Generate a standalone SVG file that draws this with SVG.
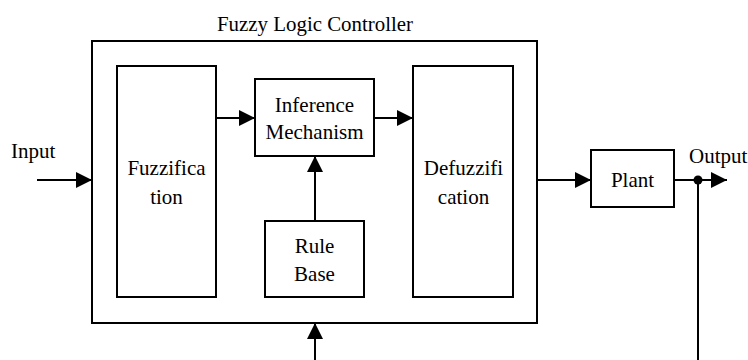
<svg xmlns="http://www.w3.org/2000/svg" width="748" height="360" viewBox="0 0 748 360">
<style>
.box{fill:#fff;stroke:#000;stroke-width:2}
.ln{fill:none;stroke:#000;stroke-width:2}
.t{font-family:'Liberation Serif','Times New Roman','DejaVu Serif',serif;font-size:21px;fill:#000}
.c{text-anchor:middle}
</style>
<defs>
<marker id="ah" markerUnits="userSpaceOnUse" markerWidth="16" markerHeight="16" viewBox="0 0 14 14" refX="14" refY="7" orient="auto">
<path d="M0,0 L14,7 L0,14 Z" fill="#000"/>
</marker>
</defs>
<rect width="748" height="360" fill="#fff"/>
<g font-family="Liberation Serif, Times New Roman, DejaVu Serif, serif" font-size="21">
<g id="controller">
<rect class="box" x="92" y="41" width="445" height="282"/>
<text class="t c" x="315" y="31" textLength="196" lengthAdjust="spacingAndGlyphs">Fuzzy Logic Controller</text>
</g>
<g id="fuzzification">
<rect class="box" x="117" y="66" width="99" height="231"/>
<text class="t c" x="166.5" y="175">Fuzzifica</text>
<text class="t c" x="166.5" y="204">tion</text>
</g>
<g id="inference">
<rect class="box" x="255" y="79" width="119" height="77"/>
<text class="t c" x="314.5" y="112">Inference</text>
<text class="t c" x="314.5" y="139">Mechanism</text>
</g>
<g id="rulebase">
<rect class="box" x="265" y="221" width="99" height="76"/>
<text class="t c" x="314.5" y="253">Rule</text>
<text class="t c" x="314.5" y="281">Base</text>
</g>
<g id="defuzzification">
<rect class="box" x="413" y="66" width="100" height="231"/>
<text class="t c" x="463.5" y="175">Defuzzifi</text>
<text class="t c" x="463.5" y="204">cation</text>
</g>
<g id="plant">
<rect class="box" x="591" y="150" width="83" height="57"/>
<text class="t c" x="632.5" y="187">Plant</text>
</g>
<g id="input">
<text class="t" x="11" y="158">Input</text>
</g>
<g id="output">
<text class="t" x="689" y="163">Output</text>
<circle cx="698" cy="180" r="4.5" fill="#000"/>
</g>
</g>
<g id="connectors">
<line class="ln" x1="37" y1="180" x2="92" y2="180" marker-end="url(#ah)"/>
<line class="ln" x1="216" y1="118" x2="255" y2="118" marker-end="url(#ah)"/>
<line class="ln" x1="374" y1="118" x2="413" y2="118" marker-end="url(#ah)"/>
<line class="ln" x1="315" y1="221" x2="315" y2="156" marker-end="url(#ah)"/>
<line class="ln" x1="315" y1="360" x2="315" y2="323" marker-end="url(#ah)"/>
<line class="ln" x1="537" y1="180" x2="591" y2="180" marker-end="url(#ah)"/>
<line class="ln" x1="674" y1="180" x2="727" y2="180" marker-end="url(#ah)"/>
<line class="ln" x1="698" y1="180" x2="698" y2="360"/>
</g>
</svg>
